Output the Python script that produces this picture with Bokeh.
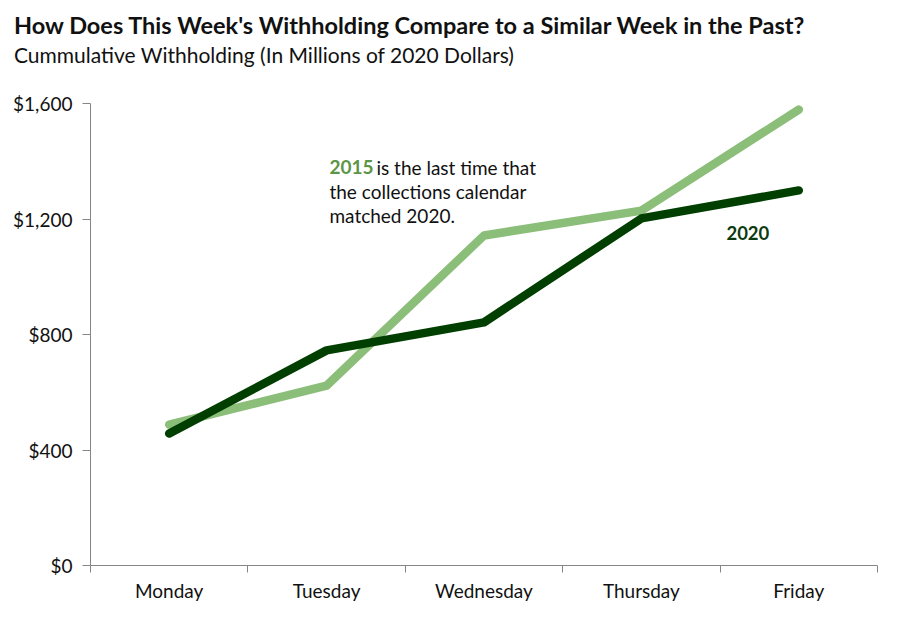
from bokeh.plotting import figure
from bokeh.models import Range1d, FixedTicker, NumeralTickFormatter, Div
from bokeh.layouts import column
from bokeh.core.properties import value
from bokeh.embed import file_html
from bokeh.resources import INLINE

days = ["Monday", "Tuesday", "Wednesday", "Thursday", "Friday"]
w2015 = [488, 623, 1143, 1229, 1579]
w2020 = [457, 745, 842, 1202, 1299]
y_ticks = [0, 400, 800, 1200, 1600]

title_text = "How Does This Week's Withholding Compare to a Similar Week in the Past?"
subtitle_text = "Cummulative Withholding (In Millions of 2020 Dollars)"

FONT = "Lato"
LIGHT = "#8BBE78"
DARK = "#003F00"

xs = [i + 0.5 for i in range(len(days))]

title_div = Div(
    text=('<div style="font-family:Lato;font-size:23.5px;font-weight:bold;'
          'color:#111111;line-height:30px;padding-top:10px;padding-left:14px;'
          'white-space:nowrap;">' + title_text + '</div>'),
    width=884, height=42, margin=0)
sub_div = Div(
    text=('<div style="font-family:Lato;font-size:21px;color:#111111;'
          'line-height:26px;padding-left:14px;white-space:nowrap;">'
          + subtitle_text + '</div>'),
    width=884, height=26, margin=0)

p = figure(width=884, height=546, output_backend="svg", toolbar_location=None,
           x_range=Range1d(0, len(days)), y_range=Range1d(0, 1600),
           min_border_left=90, min_border_right=7, min_border_bottom=49,
           min_border_top=35, title=None, margin=0)
p.outline_line_color = None
p.xgrid.visible = False
p.ygrid.visible = False
p.background_fill_color = "white"
p.border_fill_color = "white"

p.line(xs, w2015, line_color=LIGHT, line_width=8.5, line_cap="round", line_join="round")
p.line(xs, w2020, line_color=DARK, line_width=8.5, line_cap="round", line_join="round")

# annotation
ax, ay = 1.518, 1380
FS = "19px"
p.text([ax], [ay], text=["2015"], text_font=value(FONT), text_font_size=FS,
       text_font_style="bold", text_color="#5B9545", text_baseline="middle")
p.text([ax], [ay], text=["is the last time that"], x_offset=47, text_font=value(FONT),
       text_font_size=FS, text_color="#111111", text_baseline="middle")
p.text([ax], [ay], text=["the collections calendar"], y_offset=24, text_font=value(FONT),
       text_font_size=FS, text_color="#111111", text_baseline="middle")
p.text([ax], [ay], text=["matched 2020."], y_offset=48, text_font=value(FONT),
       text_font_size=FS, text_color="#111111", text_baseline="middle")
p.text([4.04], [1150], text=["2020"], text_font=value(FONT), text_font_size="18.5px",
       text_font_style="bold", text_color="#0E3A10", text_baseline="middle")

# axes
ya = p.yaxis[0]
ya.ticker = FixedTicker(ticks=y_ticks)
ya.formatter = NumeralTickFormatter(format="$0,0")
ya.axis_line_color = "#868686"
ya.major_tick_line_color = "#868686"
ya.major_tick_out = 8
ya.major_tick_in = 0
ya.minor_tick_line_color = None
ya.major_label_text_font = FONT
ya.major_label_text_font_size = "19px"
ya.major_label_text_color = "#111111"
ya.major_label_standoff = 10

xa = p.xaxis[0]
xa.ticker = FixedTicker(ticks=xs, minor_ticks=list(range(len(days) + 1)))
xa.major_label_overrides = {x: d for x, d in zip(xs, days)}
xa.axis_line_color = "#868686"
xa.major_tick_line_color = None
xa.major_tick_out = 0
xa.major_tick_in = 0
xa.minor_tick_line_color = "#868686"
xa.minor_tick_out = 7
xa.minor_tick_in = 0
xa.major_label_text_font = FONT
xa.major_label_text_font_size = "19px"
xa.major_label_text_color = "#111111"
xa.major_label_standoff = 6

layout = column(title_div, sub_div, p, spacing=0)
open("out.html", "w").write(file_html(layout, INLINE))
